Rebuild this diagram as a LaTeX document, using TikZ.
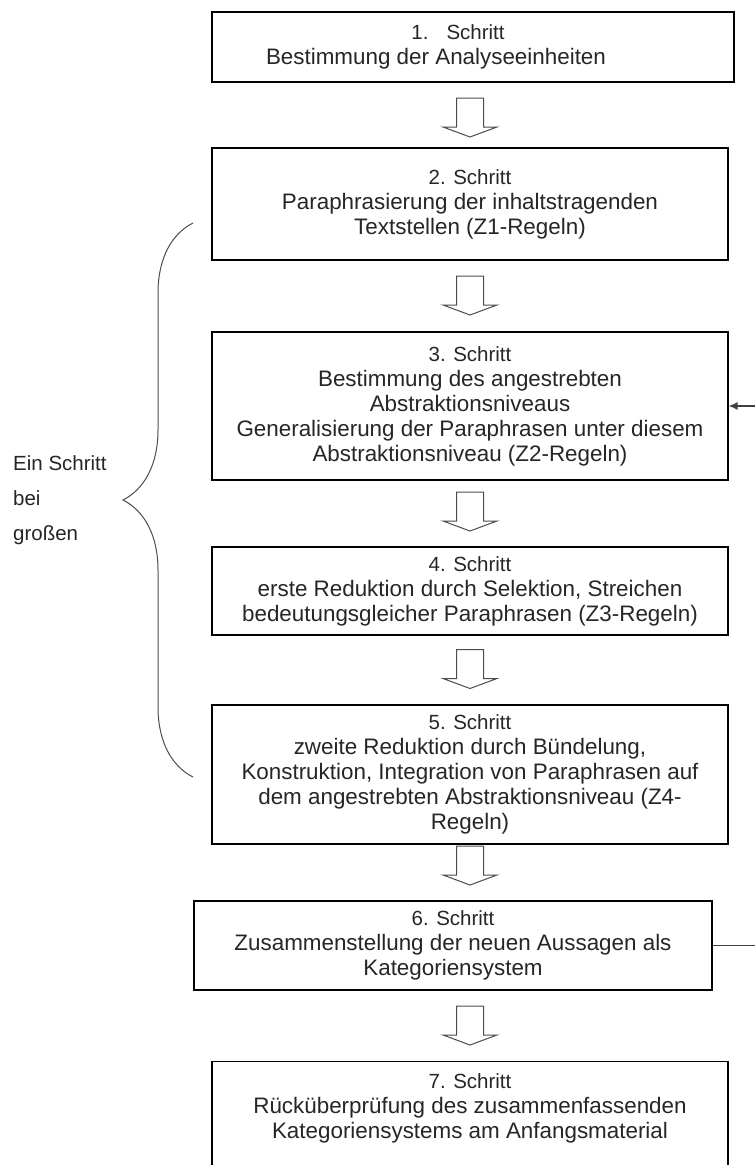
\documentclass[tikz,border=0pt]{standalone}
\usepackage{fontspec}
\setmainfont{Liberation Sans}
\usetikzlibrary{positioning,calc,arrows.meta,decorations.pathreplacing}

\newcommand\headfont{\fontsize{20.5}{25}\selectfont}
\newcommand\bodyfont{\fontsize{22.4}{25}\selectfont}

\tikzset{
  stepbox/.style={draw=black, line width=1.2pt, fill=white, text=black!85, font=\bodyfont,
    align=center, inner sep=0pt, minimum width=516pt},
  blockline/.style={draw=black!70, line width=1pt, fill=white, line join=miter},
  pics/downblock/.style={code={
    \draw[blockline] (-13.5,-19.5) -- (-13.5,9.5) -- (-27,9.5) -- (0,19.5)
      -- (27,9.5) -- (13.5,9.5) -- (13.5,-19.5) -- cycle;}},
  feedback/.style={draw=black!75, line width=1.3pt, -{Latex[length=9pt,width=8pt]}},
  bracket/.style={draw=black!70, line width=1pt, decorate, decoration={brace, amplitude=70pt}},
  sidenote/.style={font=\fontsize{20.5}{35}\selectfont, text=black!85, align=left, anchor=west, inner sep=0pt}
}

\begin{document}
\begin{tikzpicture}[x=1pt,y=-1pt]
\useasboundingbox (0,0) rectangle (755,1165);
\fill[white] (0,0) rectangle (755,1165);

\node[stepbox, minimum width=522pt, minimum height=70pt] (s1) at (473,47)
  {{\headfont 1.\hspace{18pt}Schritt}\hspace*{30pt}\\ Bestimmung der Analyseeinheiten\hspace*{74pt}};
\node[stepbox, minimum height=112pt] (s2) at (470,204)
  {{\headfont 2. Schritt}\\ Paraphrasierung der inhaltstragenden\\ Textstellen (Z1-Regeln)};
\node[stepbox, minimum height=148pt] (s3) at (470,406)
  {{\headfont 3. Schritt}\\ Bestimmung des angestrebten\\ Abstraktionsniveaus\\
   Generalisierung der Paraphrasen unter diesem\\ Abstraktionsniveau (Z2-Regeln)};
\node[stepbox, minimum height=88pt] (s4) at (470,591)
  {{\headfont 4. Schritt}\\ erste Reduktion durch Selektion, Streichen\\
   bedeutungsgleicher Paraphrasen (Z3-Regeln)};
\node[stepbox, minimum height=139pt] (s5) at (470,774.5)
  {{\headfont 5. Schritt}\\ zweite Reduktion durch Bündelung,\\
   Konstruktion, Integration von Paraphrasen auf\\
   dem angestrebten Abstraktionsniveau (Z4-\\ Regeln)};
\node[stepbox, minimum width=518pt, minimum height=89pt] (s6) at (453,945.5)
  {{\headfont 6. Schritt}\\ Zusammenstellung der neuen Aussagen als\\ Kategoriensystem};
\node[stepbox, anchor=north, inner ysep=12pt, text depth=45pt] (s7) at (470,1061)
  {{\headfont 7. Schritt}\\ Rücküberprüfung des zusammenfassenden\\
   Kategoriensystems am Anfangsmaterial};

\pic (a1) at (470,117.5) {downblock};
\pic (a2) at (470,295.5) {downblock};
\pic (a3) at (470,511.5) {downblock};
\pic (a4) at (470,669) {downblock};
\pic (a5) at (470,865.5) {downblock};
\pic (a6) at (470,1025.5) {downblock};

\draw[bracket] (193,777) -- (193,223);
\node[sidenote] (note) at (13,500) {Ein Schritt\\ bei\\ großen};

\coordinate (fb) at (762,0);
\draw[feedback] (s6.east) -- (s6.east -| fb) -- (s3.east -| fb) -- (s3.east);
\end{tikzpicture}
\end{document}
